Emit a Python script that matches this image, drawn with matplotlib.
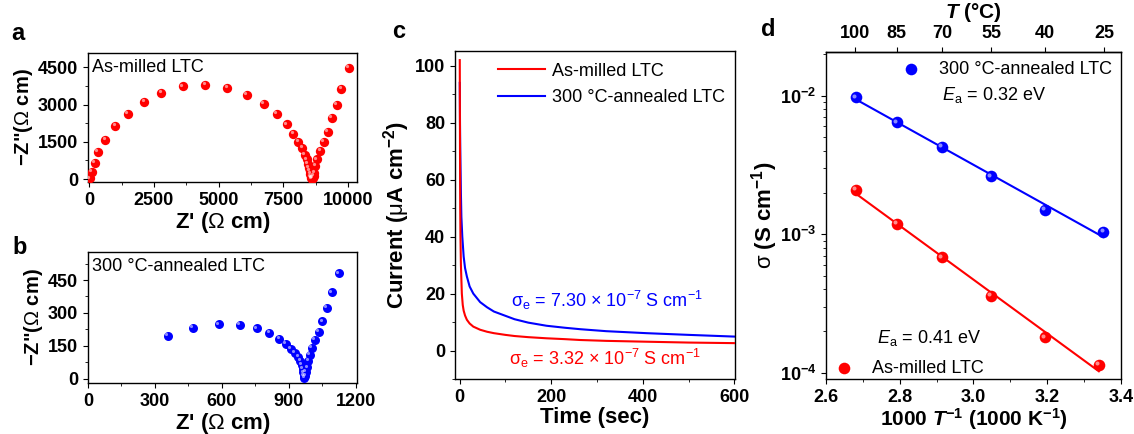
import numpy as np
import matplotlib
matplotlib.use("Agg")
import matplotlib.pyplot as plt
from matplotlib.ticker import MultipleLocator, FixedLocator, FuncFormatter
from matplotlib.transforms import offset_copy

plt.rcParams["font.family"] = ["Liberation Sans", "DejaVu Sans"]
plt.rcParams["mathtext.fontset"] = "custom"
plt.rcParams["mathtext.rm"] = "Liberation Sans"
plt.rcParams["mathtext.it"] = "Liberation Sans:italic"
plt.rcParams["mathtext.bf"] = "Liberation Sans:bold"
plt.rcParams["mathtext.bfit"] = "Liberation Sans:bold:italic"
plt.rcParams["mathtext.default"] = "regular"
plt.rcParams["axes.linewidth"] = 1.0
plt.rcParams["xtick.direction"] = "out"
plt.rcParams["ytick.direction"] = "out"

TICK_FS = 13
LABEL_FS = 16
TEXT_FS = 13

# (a) impedance, as-milled
a_zre = [13, 102, 205, 333, 614, 1011, 1485, 2125, 2790, 3610, 4493, 5338, 6093,
         6758, 7245, 7629, 7885, 8077, 8243, 8333, 8400, 8450, 8490, 8520, 8550,
         8570, 8590, 8610, 8640, 8670, 8700, 8740, 8806, 8934, 9062, 9229, 9370,
         9562, 9741, 10035]
a_zim = [26, 291, 662, 1086, 1576, 2132, 2635, 3111, 3482, 3734, 3787, 3667, 3403,
         3045, 2621, 2211, 1814, 1509, 1245, 980, 800, 620, 460, 320, 200,
         110, 50, 15, 40, 120, 260, 520, 800, 1150, 1500, 1900, 2476,
         3005, 3641, 4488]

# (b) impedance, 300 C annealed
b_zre = [357, 469, 586, 682, 758, 813, 858, 888, 910, 928, 943, 952, 958, 962,
         965, 967, 970, 974, 978, 983, 988, 995, 1003, 1018, 1036, 1051, 1072,
         1094, 1126]
b_zim = [194, 233, 248, 245, 230, 208, 183, 158, 135, 117, 98, 80, 62, 45,
         28, 12, 4, 14, 30, 52, 80, 110, 142, 177, 215, 261, 324,
         394, 480]

# (c) DC polarization current
t_red = [0.5, 1, 1.5, 2, 3, 5, 7, 9, 12, 16, 22, 30, 45, 60, 75, 100, 120, 150,
         190, 230, 263, 320, 408, 500, 600]
i_red = [102, 70, 50, 40, 30, 20, 16, 14, 12.3, 10.8, 9.5, 8.4, 7.3, 6.6, 6.1,
         5.5, 5.1, 4.7, 4.3, 4.0, 3.7, 3.4, 3.1, 2.8, 2.6]
t_blue = [0.5, 1, 1.5, 2, 3, 4, 6, 9, 12, 16, 22, 30, 45, 60, 75, 100, 120, 150,
          190, 230, 263, 320, 408, 500, 600]
i_blue = [94, 80, 72, 66, 55, 47, 40, 33, 29, 26, 22.5, 20, 17, 15.2, 13.7,
          12.2, 11, 9.8, 8.7, 8.0, 7.5, 6.8, 6.1, 5.5, 4.9]

# (d) Arrhenius plot
temps_c = [100, 85, 70, 55, 40, 25]
inv_t_blue = [2.680, 2.792, 2.914, 3.047, 3.193, 3.352]
sigma_blue = [0.00973, 0.00642, 0.00428, 0.00261, 0.00150, 0.00104]
inv_t_red = [2.680, 2.792, 2.914, 3.047, 3.193, 3.340]
sigma_red = [0.00209, 0.00119, 0.000683, 0.000359, 0.000181, 0.000115]

RED = "#ff0000"
BLUE = "#0000ff"


def balls(ax, x, y, color, s):
    ax.scatter(x, y, s=s, color=color, zorder=3, linewidths=0)
    hl = offset_copy(ax.transData, fig=ax.figure, x=-1.2, y=1.2, units="points")
    ax.scatter(x, y, s=s * 0.12, color="white", alpha=0.55, zorder=4,
               linewidths=0, transform=hl)


def bold_ticks(ax, size=TICK_FS):
    for lab in ax.get_xticklabels() + ax.get_yticklabels():
        lab.set_fontweight("bold")
        lab.set_fontsize(size)


fig = plt.figure(figsize=(11.34, 4.34), dpi=100)

# ---- a ----
ax_a = fig.add_axes([0.0776, 0.5806, 0.2372, 0.2972])
balls(ax_a, a_zre, a_zim, RED, 45)
ax_a.set_xlim(-50, 10350)
ax_a.set_ylim(-120, 5080)
ax_a.xaxis.set_major_locator(MultipleLocator(2500))
ax_a.xaxis.set_minor_locator(MultipleLocator(1250))
ax_a.yaxis.set_major_locator(MultipleLocator(1500))
ax_a.yaxis.set_minor_locator(MultipleLocator(750))
ax_a.set_xlabel(r"Z' ($\mathrm{\Omega}$ cm)", fontsize=LABEL_FS,
                fontweight="bold", labelpad=1)
ax_a.set_ylabel(r'−Z"($\mathrm{\Omega}$ cm)', fontsize=14.5,
                fontweight="bold", labelpad=2)
ax_a.text(0.015, 0.89, "As-milled LTC", transform=ax_a.transAxes,
          fontsize=TEXT_FS, va="center")
bold_ticks(ax_a)

# ---- b ----
ax_b = fig.add_axes([0.0776, 0.1175, 0.2372, 0.3018])
balls(ax_b, b_zre, b_zim, BLUE, 42)
ax_b.set_xlim(0, 1206)
ax_b.set_ylim(-20, 578)
ax_b.xaxis.set_major_locator(MultipleLocator(300))
ax_b.xaxis.set_minor_locator(MultipleLocator(150))
ax_b.yaxis.set_major_locator(MultipleLocator(150))
ax_b.yaxis.set_minor_locator(MultipleLocator(75))
ax_b.set_xlabel(r"Z' ($\mathrm{\Omega}$ cm)", fontsize=LABEL_FS,
                fontweight="bold", labelpad=1)
ax_b.set_ylabel(r'−Z"($\mathrm{\Omega}$ cm)', fontsize=14.5,
                fontweight="bold", labelpad=2)
ax_b.text(0.015, 0.893, "300 °C-annealed LTC", transform=ax_b.transAxes,
          fontsize=TEXT_FS, va="center")
bold_ticks(ax_b)

# ---- c ----
ax_c = fig.add_axes([0.4012, 0.1267, 0.2469, 0.7558])
ax_c.plot(t_red, i_red, color=RED, lw=1.5, label="As-milled LTC", zorder=3)
ax_c.plot(t_blue, i_blue, color=BLUE, lw=1.5, label="300 °C-annealed LTC")
ax_c.set_xlim(-10, 601)
ax_c.set_ylim(-10, 105.2)
ax_c.xaxis.set_major_locator(MultipleLocator(200))
ax_c.xaxis.set_minor_locator(MultipleLocator(100))
ax_c.yaxis.set_major_locator(MultipleLocator(20))
ax_c.yaxis.set_minor_locator(MultipleLocator(10))
ax_c.set_xlabel("Time (sec)", fontsize=LABEL_FS, fontweight="bold", labelpad=1)
ax_c.set_ylabel(r"Current ($\mathrm{\mu}$A cm$^{\mathbf{-2}}$)",
                fontsize=LABEL_FS, fontweight="bold", labelpad=2)
ax_c.legend(loc="upper right", frameon=False, fontsize=TEXT_FS,
            handlelength=2.6, borderaxespad=0.0, labelspacing=0.55,
            handletextpad=0.4, borderpad=0.55, bbox_to_anchor=(1.0, 0.995))
ax_c.text(0.543, 0.241, r"$\sigma_\mathrm{e}$ = 7.30 × 10$^{-7}$ S cm$^{-1}$",
          transform=ax_c.transAxes, color=BLUE, fontsize=TEXT_FS, ha="center",
          va="center")
ax_c.text(0.536, 0.064, r"$\sigma_\mathrm{e}$ = 3.32 × 10$^{-7}$ S cm$^{-1}$",
          transform=ax_c.transAxes, color=RED, fontsize=TEXT_FS, ha="center",
          va="center")
bold_ticks(ax_c)

# ---- d ----
ax_d = fig.add_axes([0.7284, 0.1267, 0.2601, 0.7535])
ax_d.set_yscale("log")
for xs, ys, col in [(inv_t_blue, sigma_blue, BLUE), (inv_t_red, sigma_red, RED)]:
    k, b = np.polyfit(xs, np.log10(ys), 1)
    xf = np.array([xs[0], xs[-1]])
    ax_d.plot(xf, 10 ** (k * xf + b), color=col, lw=1.5, zorder=2)
    balls(ax_d, xs, ys, col, 70)
ax_d.set_xlim(2.6, 3.4)
ax_d.set_ylim(9.05e-5, 0.0206)
ax_d.xaxis.set_major_locator(MultipleLocator(0.2))
ax_d.xaxis.set_minor_locator(MultipleLocator(0.1))
ax_d.yaxis.set_major_formatter(
    FuncFormatter(lambda v, p: r"$\mathbf{10^{%d}}$" % round(np.log10(v))))
ax_d.set_xlabel(r"1000 $\mathbfit{T}^{\mathbf{-1}}$ (1000 K$^{\mathbf{-1}}$)",
                fontsize=15, fontweight="bold", labelpad=0)
ax_d.set_ylabel(r"$\mathrm{\sigma}$ (S cm$^{\mathbf{-1}}$)", fontsize=LABEL_FS,
                fontweight="bold", labelpad=0)

top = ax_d.secondary_xaxis("top", functions=(lambda x: 1000 / np.asarray(x) - 273.15,
                                             lambda t: 1000 / (np.asarray(t) + 273.15)))
top.xaxis.set_major_locator(FixedLocator(temps_c))
top.set_xlabel(r"$\mathbfit{T}$ (°C)", fontsize=15, fontweight="bold",
               labelpad=5)
for lab in top.get_xticklabels():
    lab.set_fontweight("bold")
    lab.set_fontsize(TICK_FS)

h_blue = ax_d.scatter([], [], s=70, color=BLUE, linewidths=0)
h_red = ax_d.scatter([], [], s=70, color=RED, linewidths=0)
leg1 = ax_d.legend([h_blue], ["300 °C-annealed LTC"], loc="upper right",
                   frameon=False, fontsize=TEXT_FS, borderaxespad=0.1,
                   handlelength=1.0, handletextpad=1.05)
ax_d.add_artist(leg1)
ax_d.legend([h_red], ["As-milled LTC"], loc="lower left", frameon=False,
            fontsize=TEXT_FS, borderaxespad=0.0, handlelength=1.0,
            handletextpad=1.05, bbox_to_anchor=(0.005, -0.015))
ax_d.text(0.393, 0.868, r"$\mathit{E}_\mathrm{a}$ = 0.32 eV",
          transform=ax_d.transAxes, fontsize=TEXT_FS, va="center")
ax_d.text(0.173, 0.125, r"$\mathit{E}_\mathrm{a}$ = 0.41 eV",
          transform=ax_d.transAxes, fontsize=TEXT_FS, va="center")
bold_ticks(ax_d)

# panel letters
for lbl, (x, y) in zip("abcd", [(11, 33), (12, 248), (392, 32), (761, 29)]):
    fig.text(x / 1134, 1 - y / 434, lbl, fontsize=17, fontweight="bold",
             va="center")

fig.savefig("out.png", dpi=100)
